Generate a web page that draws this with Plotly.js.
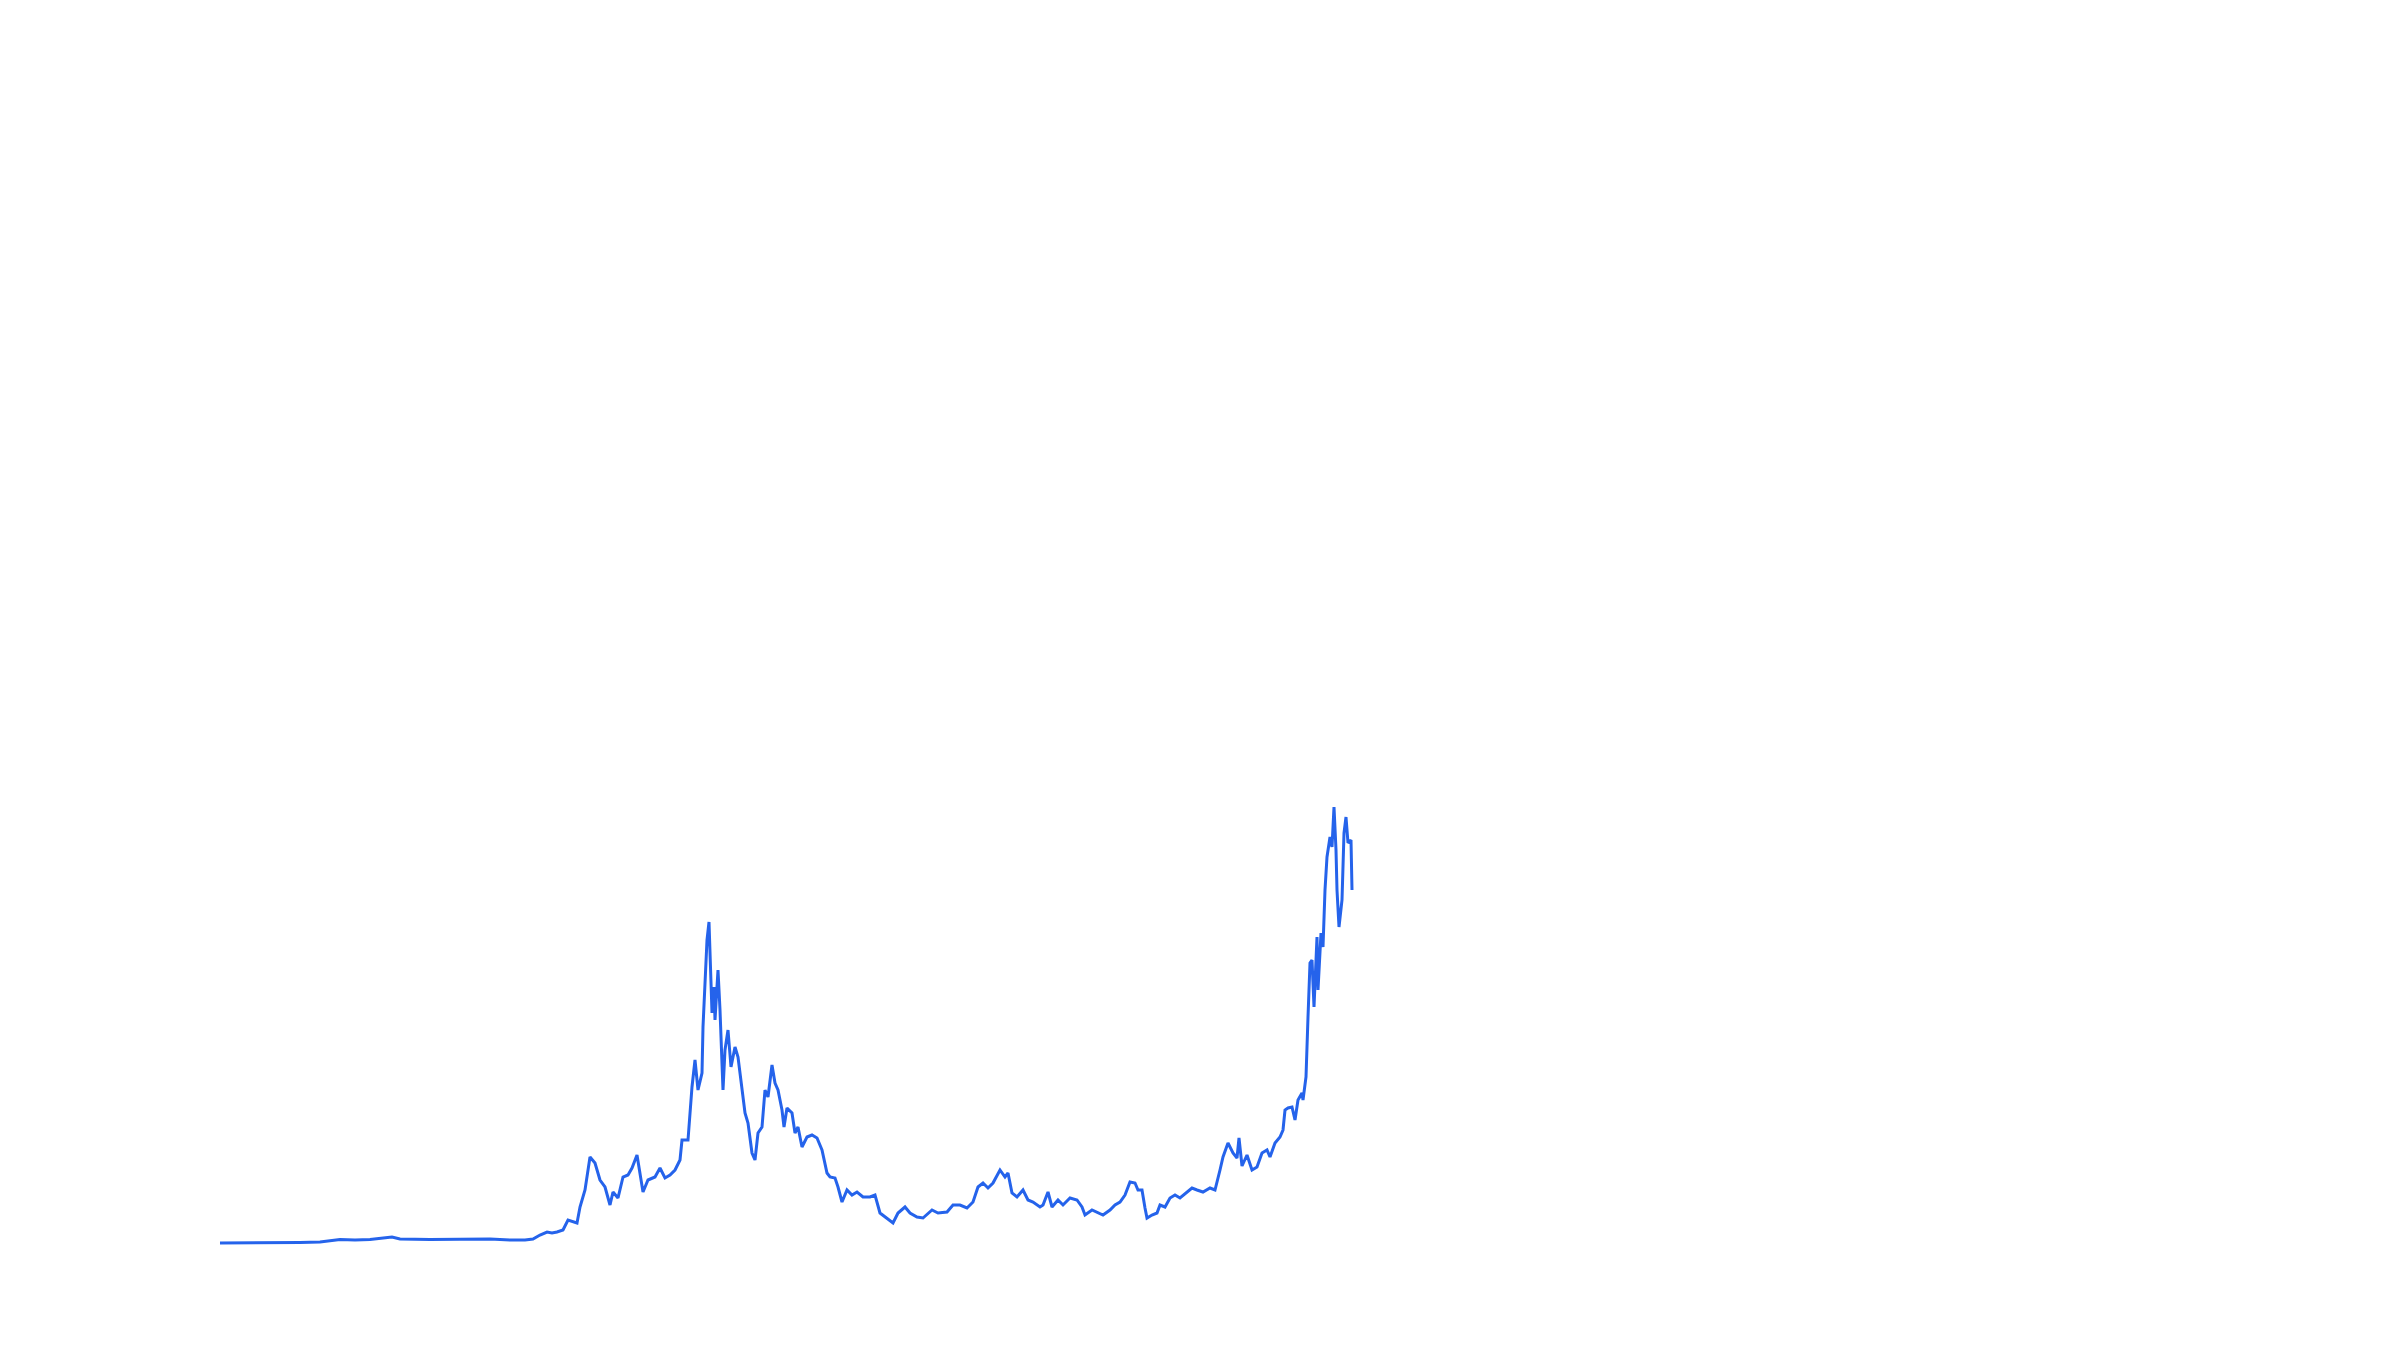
<!DOCTYPE html>
<html>
<head>
<meta charset="utf-8">
<script src="https://cdn.plot.ly/plotly-3.0.1.min.js"></script>
<style>html,body{margin:0;padding:0;background:#fff;}#chart{width:2400px;height:1360px;}</style>
</head>
<body>
<div id="chart"></div>
<script>
// time index (arbitrary units)
const t = [
  0, 4, 8, 10, 12, 13.5, 15, 17.2, 18, 21,
  24, 27, 29, 30.5, 31.3, 32, 32.7, 33.2, 33.7, 34.3,
  34.8, 35.3, 35.7, 36, 36.5, 37, 37.5, 38, 38.5, 39,
  39.3, 39.8, 40.3, 40.8, 41.2, 41.7, 42, 42.3, 42.8, 43.5,
  44, 44.5, 45, 45.5, 46, 46.2, 46.8, 47.2, 47.5, 47.8,
  48.2, 48.3, 48.7, 48.9, 49.2, 49.4, 49.5, 49.8, 50, 50.3,
  50.5, 50.8, 51.1, 51.5, 51.8, 52.2, 52.5, 52.8, 53.2, 53.5,
  53.8, 54.2, 54.5, 54.8, 55.2, 55.5, 55.8, 56.2, 56.4, 56.7,
  57.2, 57.5, 57.8, 58.2, 58.7, 59.2, 59.7, 60.2, 60.7, 61,
  61.5, 61.8, 62.2, 62.7, 63.2, 63.7, 64.3, 65, 65.5, 66,
  66.7, 67.3, 67.8, 68.5, 69, 69.7, 70.3, 71.2, 71.8, 72.7,
  73.3, 74, 74.7, 75.3, 75.8, 76.3, 76.8, 77.3, 78, 78.5,
  78.8, 79.2, 79.7, 80.3, 80.8, 81.3, 82, 82.3, 82.8, 83.2,
  83.8, 84.3, 85, 85.7, 86.2, 86.5, 87.2, 87.8, 88.3, 89,
  89.5, 90, 90.5, 91, 91.5, 91.8, 92.2, 92.5, 92.7, 93.2,
  93.7, 94, 94.5, 95, 95.5, 96, 96.7, 97.2, 97.7, 98.3,
  99, 99.5, 100, 100.3, 100.8, 101.3, 101.7, 101.9, 102.2, 102.7,
  103.2, 103.7, 104.2, 104.7, 105, 105.5, 106, 106.3, 106.5, 106.8,
  107.2, 107.5, 107.8, 108.2, 108.3, 108.6, 108.8, 109, 109.2, 109.4,
  109.7, 109.8, 110.1, 110.3, 110.5, 110.7, 111, 111.2, 111.4, 111.6,
  111.7, 111.9, 112.2, 112.4, 112.6, 112.8, 113.1, 113.2
];
// series values
const values = [
  0, 0, 50, 100, 350, 300, 350, 600, 400, 350,
  400, 400, 300, 300, 400, 800, 1100, 1000, 1100, 1300,
  2300, 2100, 2000, 3600, 5300, 8600, 8000, 6300, 5600, 3800,
  5100, 4500, 6600, 6800, 7500, 8800, 7100, 5100, 6300, 6600,
  7500, 6500, 6800, 7300, 8300, 10300, 10300, 15600, 18300, 15300,
  17000, 21600, 30300, 32100, 23000, 25600, 22300, 27300, 23300, 15300,
  19300, 21300, 17600, 19600, 18600, 15600, 13000, 12000, 9000, 8300,
  11000, 11600, 15300, 14600, 17800, 16000, 15300, 13300, 11600, 13500,
  13000, 11000, 11600, 9600, 10600, 10800, 10500, 9300, 7000, 6600,
  6500, 5600, 4100, 5300, 4800, 5100, 4600, 4600, 4800, 3000,
  2500, 2000, 3000, 3600, 3000, 2600, 2500, 3300, 3000, 3100,
  3800, 3800, 3500, 4100, 5600, 6000, 5500, 6000, 7300, 6600,
  7000, 5000, 4600, 5300, 4300, 4100, 3600, 3800, 5100, 3600,
  4300, 3800, 4500, 4300, 3600, 2800, 3300, 3000, 2800, 3300,
  3800, 4100, 4800, 6100, 6000, 5300, 5300, 3500, 2500, 2800,
  3000, 3800, 3600, 4500, 4800, 4500, 5100, 5500, 5300, 5100,
  5500, 5300, 7300, 8600, 10000, 9000, 8500, 10500, 7700, 8800,
  7300, 7600, 9000, 9300, 8600, 10000, 10600, 11300, 13300, 13500,
  13600, 12300, 14300, 15000, 14300, 16600, 22600, 28000, 28300, 23600,
  30600, 25300, 31000, 29600, 35300, 38600, 40600, 39600, 43600, 39300,
  35300, 31600, 34300, 41000, 42600, 40000, 40300, 35300
];

const trace = {
  x: t,
  y: values,
  type: 'scatter',
  mode: 'lines',
  line: {color: '#2563eb', width: 3},
  hoverinfo: 'x+y'
};

const layout = {
  width: 2400,
  height: 1360,
  autosize: false,
  margin: {l: 0, r: 0, t: 0, b: 0, pad: 0},
  paper_bgcolor: '#ffffff',
  plot_bgcolor: '#ffffff',
  showlegend: false,
  xaxis: {visible: false, range: [-22, 218], fixedrange: true},
  yaxis: {visible: false, range: [-11700, 124300], fixedrange: true}
};

Plotly.newPlot('chart', [trace], layout, {displayModeBar: false, staticPlot: true});
</script>
</body>
</html>
